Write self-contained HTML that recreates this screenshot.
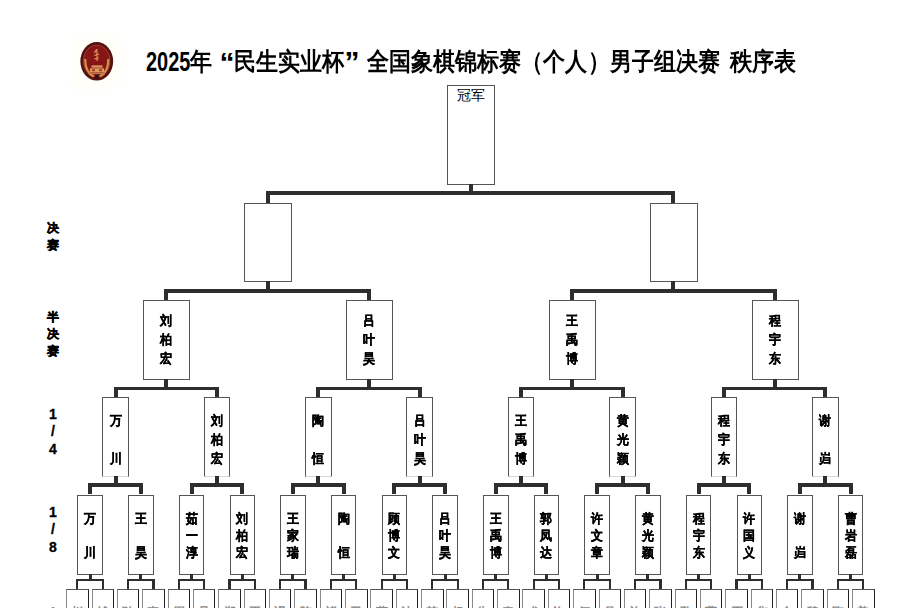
<!DOCTYPE html>
<html><head><meta charset="utf-8">
<style>
html,body{margin:0;padding:0;}
body{width:922px;height:608px;overflow:hidden;background:#fff;position:relative;font-family:"Liberation Sans",sans-serif;}
.r{position:absolute;}
.bx{position:absolute;border:1px solid #555;background:#fff;}
.t{position:absolute;width:20px;text-align:center;font-weight:bold;line-height:1;color:#000;font-family:"Liberation Serif",serif;-webkit-text-stroke:0.35px #000;transform:scaleX(0.92);}
.champ{position:absolute;width:28px;font-size:14px;line-height:1;color:#000;font-family:"Liberation Serif",serif;}
.lb{position:absolute;width:20px;text-align:center;font-size:12px;font-weight:bold;line-height:1;color:#000;-webkit-text-stroke:0.5px #000;}
.tc{position:absolute;top:49px;width:30px;text-align:center;font-size:25px;font-weight:bold;line-height:1;color:#000;transform:scaleX(0.88);}
.qt{position:absolute;top:48px;font-size:30px;font-weight:bold;line-height:1;color:#000;}
.dg{position:absolute;left:140px;top:48.5px;font-size:27px;font-weight:bold;line-height:1;color:#000;transform-origin:0 0;transform:translateX(6px) scaleX(0.74);}
.ld{position:absolute;width:20px;text-align:center;font-size:14px;font-weight:bold;line-height:1;color:#000;-webkit-text-stroke:0.3px #000;}
.t5{position:absolute;width:12px;text-align:center;font-size:12px;line-height:1;color:#888;font-weight:bold;}
.title{position:absolute;left:145px;top:46px;font-size:22px;font-weight:bold;line-height:1.2;color:#000;white-space:nowrap;letter-spacing:0;}
</style></head><body>
<div style="position:absolute;left:72px;top:34px;width:50px;height:56px;background:#fffef8;border-radius:10px;filter:blur(4px)"></div>
<svg width="45" height="48" viewBox="0 0 45 48" style="position:absolute;left:75px;top:38px;filter:blur(0.45px)">
<ellipse cx="21.75" cy="23.3" rx="16.4" ry="19.3" fill="#541210"/>
<ellipse cx="21.75" cy="23" rx="13.6" ry="16.3" fill="#a84436"/>
<ellipse cx="21.75" cy="22.6" rx="12.6" ry="15.2" fill="#861515"/>
<path d="M10.2 21 Q10.2 34 18.5 38.5" stroke="#d09048" stroke-width="2.2" fill="none"/>
<path d="M33.3 21 Q33.3 34 25 38.5" stroke="#d09048" stroke-width="2.2" fill="none"/>
<path d="M21.5 11.5 L19.3 14.8 M21.8 11 L22.2 23 M19.2 17.5 L24.2 16 M19.5 20.8 L23.8 19.8" stroke="#e0905a" stroke-width="1.25" fill="none"/>
<rect x="16.5" y="27.3" width="11" height="2.4" fill="#d8905a"/>
<rect x="15" y="30.3" width="14" height="3.8" fill="#dc9a5c"/>
<rect x="17" y="31.2" width="3" height="2" fill="#a83a2c"/>
<rect x="24" y="31.2" width="3" height="2" fill="#a83a2c"/>
<rect x="13.5" y="34.3" width="16.5" height="2" fill="#c27548"/>
<rect x="20" y="36.5" width="3.8" height="4" fill="#3a0f16"/>
</svg>
<div class="tc" style="left:185.75px">年</div><div class="qt" style="left:219.5px">“</div><div class="tc" style="left:229.95px">民</div><div class="tc" style="left:252.05px">生</div><div class="tc" style="left:274.15px">实</div><div class="tc" style="left:296.25px">业</div><div class="tc" style="left:318.35px">杯</div><div class="qt" style="left:344.5px;top:46.5px">”</div><div class="tc" style="left:362.55px">全</div><div class="tc" style="left:384.65px">国</div><div class="tc" style="left:406.75px">象</div><div class="tc" style="left:428.85px">棋</div><div class="tc" style="left:450.95px">锦</div><div class="tc" style="left:473.05px">标</div><div class="tc" style="left:495.15px">赛</div><div class="tc" style="left:517.25px">（</div><div class="tc" style="left:539.35px">个</div><div class="tc" style="left:561.45px">人</div><div class="tc" style="left:583.55px">）</div><div class="tc" style="left:605.65px">男</div><div class="tc" style="left:627.75px">子</div><div class="tc" style="left:649.85px">组</div><div class="tc" style="left:671.95px">决</div><div class="tc" style="left:694.05px">赛</div><div class="tc" style="left:726.00px">秩</div><div class="tc" style="left:748.00px">序</div><div class="tc" style="left:770.00px">表</div><div class="dg">2025</div>
<div class="bx" style="left:446.70px;top:85.00px;width:46.00px;height:97.50px;"></div><div class="champ" style="left:457.20px;top:89px;">冠军</div><div class="bx" style="left:244.20px;top:202.50px;width:46.00px;height:77.00px;"></div><div class="bx" style="left:650.20px;top:202.50px;width:46.00px;height:77.00px;"></div><div class="bx" style="left:143.15px;top:299.50px;width:44.50px;height:78.00px;"></div><div class="t" style="left:156.40px;top:314.00px;font-size:13px">刘</div><div class="t" style="left:156.40px;top:333.00px;font-size:13px">柏</div><div class="t" style="left:156.40px;top:352.00px;font-size:13px">宏</div><div class="bx" style="left:346.15px;top:299.50px;width:44.50px;height:78.00px;"></div><div class="t" style="left:359.40px;top:314.00px;font-size:13px">吕</div><div class="t" style="left:359.40px;top:333.00px;font-size:13px">叶</div><div class="t" style="left:359.40px;top:352.00px;font-size:13px">昊</div><div class="bx" style="left:549.15px;top:299.50px;width:44.50px;height:78.00px;"></div><div class="t" style="left:562.40px;top:314.00px;font-size:13px">王</div><div class="t" style="left:562.40px;top:333.00px;font-size:13px">禹</div><div class="t" style="left:562.40px;top:352.00px;font-size:13px">博</div><div class="bx" style="left:752.15px;top:299.50px;width:44.50px;height:78.00px;"></div><div class="t" style="left:765.40px;top:314.00px;font-size:13px">程</div><div class="t" style="left:765.40px;top:333.00px;font-size:13px">宇</div><div class="t" style="left:765.40px;top:352.00px;font-size:13px">东</div><div class="bx" style="left:102.25px;top:397.00px;width:24.50px;height:78.00px;border-bottom-color:#d8d8d8;"></div><div class="t" style="left:105.50px;top:413.50px;font-size:13px">万</div><div class="t" style="left:105.50px;top:451.50px;font-size:13px">川</div><div class="bx" style="left:203.65px;top:397.00px;width:24.50px;height:78.00px;border-bottom-color:#d8d8d8;"></div><div class="t" style="left:206.90px;top:413.50px;font-size:13px">刘</div><div class="t" style="left:206.90px;top:432.50px;font-size:13px">柏</div><div class="t" style="left:206.90px;top:451.50px;font-size:13px">宏</div><div class="bx" style="left:305.05px;top:397.00px;width:24.50px;height:78.00px;border-bottom-color:#d8d8d8;"></div><div class="t" style="left:308.30px;top:413.50px;font-size:13px">陶</div><div class="t" style="left:308.30px;top:451.50px;font-size:13px">恒</div><div class="bx" style="left:406.45px;top:397.00px;width:24.50px;height:78.00px;border-bottom-color:#d8d8d8;"></div><div class="t" style="left:409.70px;top:413.50px;font-size:13px">吕</div><div class="t" style="left:409.70px;top:432.50px;font-size:13px">叶</div><div class="t" style="left:409.70px;top:451.50px;font-size:13px">昊</div><div class="bx" style="left:507.85px;top:397.00px;width:24.50px;height:78.00px;border-bottom-color:#d8d8d8;"></div><div class="t" style="left:511.10px;top:413.50px;font-size:13px">王</div><div class="t" style="left:511.10px;top:432.50px;font-size:13px">禹</div><div class="t" style="left:511.10px;top:451.50px;font-size:13px">博</div><div class="bx" style="left:609.25px;top:397.00px;width:24.50px;height:78.00px;border-bottom-color:#d8d8d8;"></div><div class="t" style="left:612.50px;top:413.50px;font-size:13px">黄</div><div class="t" style="left:612.50px;top:432.50px;font-size:13px">光</div><div class="t" style="left:612.50px;top:451.50px;font-size:13px">颖</div><div class="bx" style="left:710.65px;top:397.00px;width:24.50px;height:78.00px;border-bottom-color:#d8d8d8;"></div><div class="t" style="left:713.90px;top:413.50px;font-size:13px">程</div><div class="t" style="left:713.90px;top:432.50px;font-size:13px">宇</div><div class="t" style="left:713.90px;top:451.50px;font-size:13px">东</div><div class="bx" style="left:812.05px;top:397.00px;width:24.50px;height:78.00px;border-bottom-color:#d8d8d8;"></div><div class="t" style="left:815.30px;top:413.50px;font-size:13px">谢</div><div class="t" style="left:815.30px;top:451.50px;font-size:13px">岿</div><div class="bx" style="left:77.40px;top:494.50px;width:23.50px;height:78.00px;"></div><div class="t" style="left:80.15px;top:511.50px;font-size:13px">万</div><div class="t" style="left:80.15px;top:546.10px;font-size:13px">川</div><div class="bx" style="left:128.10px;top:494.50px;width:23.50px;height:78.00px;"></div><div class="t" style="left:130.85px;top:511.50px;font-size:13px">王</div><div class="t" style="left:130.85px;top:546.10px;font-size:13px">昊</div><div class="bx" style="left:178.80px;top:494.50px;width:23.50px;height:78.00px;"></div><div class="t" style="left:181.55px;top:511.50px;font-size:13px">茹</div><div class="t" style="left:181.55px;top:528.80px;font-size:13px">一</div><div class="t" style="left:181.55px;top:546.10px;font-size:13px">淳</div><div class="bx" style="left:229.50px;top:494.50px;width:23.50px;height:78.00px;"></div><div class="t" style="left:232.25px;top:511.50px;font-size:13px">刘</div><div class="t" style="left:232.25px;top:528.80px;font-size:13px">柏</div><div class="t" style="left:232.25px;top:546.10px;font-size:13px">宏</div><div class="bx" style="left:280.20px;top:494.50px;width:23.50px;height:78.00px;"></div><div class="t" style="left:282.95px;top:511.50px;font-size:13px">王</div><div class="t" style="left:282.95px;top:528.80px;font-size:13px">家</div><div class="t" style="left:282.95px;top:546.10px;font-size:13px">瑞</div><div class="bx" style="left:330.90px;top:494.50px;width:23.50px;height:78.00px;"></div><div class="t" style="left:333.65px;top:511.50px;font-size:13px">陶</div><div class="t" style="left:333.65px;top:546.10px;font-size:13px">恒</div><div class="bx" style="left:381.60px;top:494.50px;width:23.50px;height:78.00px;"></div><div class="t" style="left:384.35px;top:511.50px;font-size:13px">顾</div><div class="t" style="left:384.35px;top:528.80px;font-size:13px">博</div><div class="t" style="left:384.35px;top:546.10px;font-size:13px">文</div><div class="bx" style="left:432.30px;top:494.50px;width:23.50px;height:78.00px;"></div><div class="t" style="left:435.05px;top:511.50px;font-size:13px">吕</div><div class="t" style="left:435.05px;top:528.80px;font-size:13px">叶</div><div class="t" style="left:435.05px;top:546.10px;font-size:13px">昊</div><div class="bx" style="left:483.00px;top:494.50px;width:23.50px;height:78.00px;"></div><div class="t" style="left:485.75px;top:511.50px;font-size:13px">王</div><div class="t" style="left:485.75px;top:528.80px;font-size:13px">禹</div><div class="t" style="left:485.75px;top:546.10px;font-size:13px">博</div><div class="bx" style="left:533.70px;top:494.50px;width:23.50px;height:78.00px;"></div><div class="t" style="left:536.45px;top:511.50px;font-size:13px">郭</div><div class="t" style="left:536.45px;top:528.80px;font-size:13px">凤</div><div class="t" style="left:536.45px;top:546.10px;font-size:13px">达</div><div class="bx" style="left:584.40px;top:494.50px;width:23.50px;height:78.00px;"></div><div class="t" style="left:587.15px;top:511.50px;font-size:13px">许</div><div class="t" style="left:587.15px;top:528.80px;font-size:13px">文</div><div class="t" style="left:587.15px;top:546.10px;font-size:13px">章</div><div class="bx" style="left:635.10px;top:494.50px;width:23.50px;height:78.00px;"></div><div class="t" style="left:637.85px;top:511.50px;font-size:13px">黄</div><div class="t" style="left:637.85px;top:528.80px;font-size:13px">光</div><div class="t" style="left:637.85px;top:546.10px;font-size:13px">颖</div><div class="bx" style="left:685.80px;top:494.50px;width:23.50px;height:78.00px;"></div><div class="t" style="left:688.55px;top:511.50px;font-size:13px">程</div><div class="t" style="left:688.55px;top:528.80px;font-size:13px">宇</div><div class="t" style="left:688.55px;top:546.10px;font-size:13px">东</div><div class="bx" style="left:736.50px;top:494.50px;width:23.50px;height:78.00px;"></div><div class="t" style="left:739.25px;top:511.50px;font-size:13px">许</div><div class="t" style="left:739.25px;top:528.80px;font-size:13px">国</div><div class="t" style="left:739.25px;top:546.10px;font-size:13px">义</div><div class="bx" style="left:787.20px;top:494.50px;width:23.50px;height:78.00px;"></div><div class="t" style="left:789.95px;top:511.50px;font-size:13px">谢</div><div class="t" style="left:789.95px;top:546.10px;font-size:13px">岿</div><div class="bx" style="left:837.90px;top:494.50px;width:23.50px;height:78.00px;"></div><div class="t" style="left:840.65px;top:511.50px;font-size:13px">曹</div><div class="t" style="left:840.65px;top:528.80px;font-size:13px">岩</div><div class="t" style="left:840.65px;top:546.10px;font-size:13px">磊</div><div class="bx" style="left:66.15px;top:589.00px;width:20.50px;height:38.00px;border-left-color:#8a8a8a;border-right-color:#222;"></div><div class="bx" style="left:91.50px;top:589.00px;width:20.50px;height:38.00px;border-left-color:#8a8a8a;border-right-color:#222;"></div><div class="bx" style="left:116.85px;top:589.00px;width:20.50px;height:38.00px;border-left-color:#8a8a8a;border-right-color:#222;"></div><div class="bx" style="left:142.20px;top:589.00px;width:20.50px;height:38.00px;border-left-color:#8a8a8a;border-right-color:#222;"></div><div class="bx" style="left:167.55px;top:589.00px;width:20.50px;height:38.00px;border-left-color:#8a8a8a;border-right-color:#222;"></div><div class="bx" style="left:192.90px;top:589.00px;width:20.50px;height:38.00px;border-left-color:#8a8a8a;border-right-color:#222;"></div><div class="bx" style="left:218.25px;top:589.00px;width:20.50px;height:38.00px;border-left-color:#8a8a8a;border-right-color:#222;"></div><div class="bx" style="left:243.60px;top:589.00px;width:20.50px;height:38.00px;border-left-color:#8a8a8a;border-right-color:#222;"></div><div class="bx" style="left:268.95px;top:589.00px;width:20.50px;height:38.00px;border-left-color:#8a8a8a;border-right-color:#222;"></div><div class="bx" style="left:294.30px;top:589.00px;width:20.50px;height:38.00px;border-left-color:#8a8a8a;border-right-color:#222;"></div><div class="bx" style="left:319.65px;top:589.00px;width:20.50px;height:38.00px;border-left-color:#8a8a8a;border-right-color:#222;"></div><div class="bx" style="left:345.00px;top:589.00px;width:20.50px;height:38.00px;border-left-color:#8a8a8a;border-right-color:#222;"></div><div class="bx" style="left:370.35px;top:589.00px;width:20.50px;height:38.00px;border-left-color:#8a8a8a;border-right-color:#222;"></div><div class="bx" style="left:395.70px;top:589.00px;width:20.50px;height:38.00px;border-left-color:#8a8a8a;border-right-color:#222;"></div><div class="bx" style="left:421.05px;top:589.00px;width:20.50px;height:38.00px;border-left-color:#8a8a8a;border-right-color:#222;"></div><div class="bx" style="left:446.40px;top:589.00px;width:20.50px;height:38.00px;border-left-color:#8a8a8a;border-right-color:#222;"></div><div class="bx" style="left:471.75px;top:589.00px;width:20.50px;height:38.00px;border-left-color:#8a8a8a;border-right-color:#222;"></div><div class="bx" style="left:497.10px;top:589.00px;width:20.50px;height:38.00px;border-left-color:#8a8a8a;border-right-color:#222;"></div><div class="bx" style="left:522.45px;top:589.00px;width:20.50px;height:38.00px;border-left-color:#8a8a8a;border-right-color:#222;"></div><div class="bx" style="left:547.80px;top:589.00px;width:20.50px;height:38.00px;border-left-color:#8a8a8a;border-right-color:#222;"></div><div class="bx" style="left:573.15px;top:589.00px;width:20.50px;height:38.00px;border-left-color:#8a8a8a;border-right-color:#222;"></div><div class="bx" style="left:598.50px;top:589.00px;width:20.50px;height:38.00px;border-left-color:#8a8a8a;border-right-color:#222;"></div><div class="bx" style="left:623.85px;top:589.00px;width:20.50px;height:38.00px;border-left-color:#8a8a8a;border-right-color:#222;"></div><div class="bx" style="left:649.20px;top:589.00px;width:20.50px;height:38.00px;border-left-color:#8a8a8a;border-right-color:#222;"></div><div class="bx" style="left:674.55px;top:589.00px;width:20.50px;height:38.00px;border-left-color:#8a8a8a;border-right-color:#222;"></div><div class="bx" style="left:699.90px;top:589.00px;width:20.50px;height:38.00px;border-left-color:#8a8a8a;border-right-color:#222;"></div><div class="bx" style="left:725.25px;top:589.00px;width:20.50px;height:38.00px;border-left-color:#8a8a8a;border-right-color:#222;"></div><div class="bx" style="left:750.60px;top:589.00px;width:20.50px;height:38.00px;border-left-color:#8a8a8a;border-right-color:#222;"></div><div class="bx" style="left:775.95px;top:589.00px;width:20.50px;height:38.00px;border-left-color:#8a8a8a;border-right-color:#222;"></div><div class="bx" style="left:801.30px;top:589.00px;width:20.50px;height:38.00px;border-left-color:#8a8a8a;border-right-color:#222;"></div><div class="bx" style="left:826.65px;top:589.00px;width:20.50px;height:38.00px;border-left-color:#8a8a8a;border-right-color:#222;"></div><div class="bx" style="left:852.00px;top:589.00px;width:20.50px;height:38.00px;border-left-color:#8a8a8a;border-right-color:#222;"></div><div class="t5" style="left:71.40px;top:606px">赵</div><div class="t5" style="left:96.75px;top:606px">钱</div><div class="t5" style="left:122.10px;top:606px">孙</div><div class="t5" style="left:147.45px;top:606px">李</div><div class="t5" style="left:172.80px;top:606px">周</div><div class="t5" style="left:198.15px;top:606px">吴</div><div class="t5" style="left:223.50px;top:606px">郑</div><div class="t5" style="left:248.85px;top:606px">王</div><div class="t5" style="left:274.20px;top:606px">冯</div><div class="t5" style="left:299.55px;top:606px">陈</div><div class="t5" style="left:324.90px;top:606px">褚</div><div class="t5" style="left:350.25px;top:606px">卫</div><div class="t5" style="left:375.60px;top:606px">蒋</div><div class="t5" style="left:400.95px;top:606px">沈</div><div class="t5" style="left:426.30px;top:606px">韩</div><div class="t5" style="left:451.65px;top:606px">杨</div><div class="t5" style="left:477.00px;top:606px">朱</div><div class="t5" style="left:502.35px;top:606px">秦</div><div class="t5" style="left:527.70px;top:606px">尤</div><div class="t5" style="left:553.05px;top:606px">许</div><div class="t5" style="left:578.40px;top:606px">何</div><div class="t5" style="left:603.75px;top:606px">吕</div><div class="t5" style="left:629.10px;top:606px">施</div><div class="t5" style="left:654.45px;top:606px">张</div><div class="t5" style="left:679.80px;top:606px">孔</div><div class="t5" style="left:705.15px;top:606px">曹</div><div class="t5" style="left:730.50px;top:606px">严</div><div class="t5" style="left:755.85px;top:606px">华</div><div class="t5" style="left:781.20px;top:606px">金</div><div class="t5" style="left:806.55px;top:606px">魏</div><div class="t5" style="left:831.90px;top:606px">陶</div><div class="t5" style="left:857.25px;top:606px">姜</div><div class="t5" style="left:47px;top:605.5px">1</div><div class="r" style="left:468.70px;top:183.50px;width:4.00px;height:8.00px;background:#2e2e2e;"></div><div class="r" style="left:266.10px;top:191.00px;width:409.00px;height:3.50px;background:#2e2e2e;"></div><div class="r" style="left:266.10px;top:191.00px;width:4.00px;height:11.50px;background:#2e2e2e;"></div><div class="r" style="left:671.10px;top:191.00px;width:4.00px;height:11.50px;background:#2e2e2e;"></div><div class="r" style="left:266.10px;top:280.50px;width:4.00px;height:9.00px;background:#2e2e2e;"></div><div class="r" style="left:164.40px;top:289.00px;width:207.00px;height:3.50px;background:#2e2e2e;"></div><div class="r" style="left:164.40px;top:289.00px;width:4.00px;height:10.50px;background:#2e2e2e;"></div><div class="r" style="left:367.40px;top:289.00px;width:4.00px;height:10.50px;background:#2e2e2e;"></div><div class="r" style="left:671.10px;top:280.50px;width:4.00px;height:9.00px;background:#2e2e2e;"></div><div class="r" style="left:570.40px;top:289.00px;width:207.00px;height:3.50px;background:#2e2e2e;"></div><div class="r" style="left:570.40px;top:289.00px;width:4.00px;height:10.50px;background:#2e2e2e;"></div><div class="r" style="left:773.40px;top:289.00px;width:4.00px;height:10.50px;background:#2e2e2e;"></div><div class="r" style="left:164.40px;top:378.80px;width:4.00px;height:8.70px;background:#2e2e2e;"></div><div class="r" style="left:113.50px;top:387.00px;width:105.40px;height:3.20px;background:#2e2e2e;"></div><div class="r" style="left:113.50px;top:387.00px;width:4.00px;height:10.00px;background:#2e2e2e;"></div><div class="r" style="left:214.90px;top:387.00px;width:4.00px;height:10.00px;background:#2e2e2e;"></div><div class="r" style="left:367.40px;top:378.80px;width:4.00px;height:8.70px;background:#2e2e2e;"></div><div class="r" style="left:316.30px;top:387.00px;width:105.40px;height:3.20px;background:#2e2e2e;"></div><div class="r" style="left:316.30px;top:387.00px;width:4.00px;height:10.00px;background:#2e2e2e;"></div><div class="r" style="left:417.70px;top:387.00px;width:4.00px;height:10.00px;background:#2e2e2e;"></div><div class="r" style="left:570.40px;top:378.80px;width:4.00px;height:8.70px;background:#2e2e2e;"></div><div class="r" style="left:519.10px;top:387.00px;width:105.40px;height:3.20px;background:#2e2e2e;"></div><div class="r" style="left:519.10px;top:387.00px;width:4.00px;height:10.00px;background:#2e2e2e;"></div><div class="r" style="left:620.50px;top:387.00px;width:4.00px;height:10.00px;background:#2e2e2e;"></div><div class="r" style="left:773.40px;top:378.80px;width:4.00px;height:8.70px;background:#2e2e2e;"></div><div class="r" style="left:721.90px;top:387.00px;width:105.40px;height:3.20px;background:#2e2e2e;"></div><div class="r" style="left:721.90px;top:387.00px;width:4.00px;height:10.00px;background:#2e2e2e;"></div><div class="r" style="left:823.30px;top:387.00px;width:4.00px;height:10.00px;background:#2e2e2e;"></div><div class="r" style="left:113.50px;top:476.00px;width:4.00px;height:7.70px;background:#2e2e2e;"></div><div class="r" style="left:88.15px;top:483.20px;width:54.70px;height:3.40px;background:#2e2e2e;"></div><div class="r" style="left:88.15px;top:483.20px;width:4.00px;height:11.30px;background:#2e2e2e;"></div><div class="r" style="left:138.85px;top:483.20px;width:4.00px;height:11.30px;background:#2e2e2e;"></div><div class="r" style="left:214.90px;top:476.00px;width:4.00px;height:7.70px;background:#2e2e2e;"></div><div class="r" style="left:189.55px;top:483.20px;width:54.70px;height:3.40px;background:#2e2e2e;"></div><div class="r" style="left:189.55px;top:483.20px;width:4.00px;height:11.30px;background:#2e2e2e;"></div><div class="r" style="left:240.25px;top:483.20px;width:4.00px;height:11.30px;background:#2e2e2e;"></div><div class="r" style="left:316.30px;top:476.00px;width:4.00px;height:7.70px;background:#2e2e2e;"></div><div class="r" style="left:290.95px;top:483.20px;width:54.70px;height:3.40px;background:#2e2e2e;"></div><div class="r" style="left:290.95px;top:483.20px;width:4.00px;height:11.30px;background:#2e2e2e;"></div><div class="r" style="left:341.65px;top:483.20px;width:4.00px;height:11.30px;background:#2e2e2e;"></div><div class="r" style="left:417.70px;top:476.00px;width:4.00px;height:7.70px;background:#2e2e2e;"></div><div class="r" style="left:392.35px;top:483.20px;width:54.70px;height:3.40px;background:#2e2e2e;"></div><div class="r" style="left:392.35px;top:483.20px;width:4.00px;height:11.30px;background:#2e2e2e;"></div><div class="r" style="left:443.05px;top:483.20px;width:4.00px;height:11.30px;background:#2e2e2e;"></div><div class="r" style="left:519.10px;top:476.00px;width:4.00px;height:7.70px;background:#2e2e2e;"></div><div class="r" style="left:493.75px;top:483.20px;width:54.70px;height:3.40px;background:#2e2e2e;"></div><div class="r" style="left:493.75px;top:483.20px;width:4.00px;height:11.30px;background:#2e2e2e;"></div><div class="r" style="left:544.45px;top:483.20px;width:4.00px;height:11.30px;background:#2e2e2e;"></div><div class="r" style="left:620.50px;top:476.00px;width:4.00px;height:7.70px;background:#2e2e2e;"></div><div class="r" style="left:595.15px;top:483.20px;width:54.70px;height:3.40px;background:#2e2e2e;"></div><div class="r" style="left:595.15px;top:483.20px;width:4.00px;height:11.30px;background:#2e2e2e;"></div><div class="r" style="left:645.85px;top:483.20px;width:4.00px;height:11.30px;background:#2e2e2e;"></div><div class="r" style="left:721.90px;top:476.00px;width:4.00px;height:7.70px;background:#2e2e2e;"></div><div class="r" style="left:696.55px;top:483.20px;width:54.70px;height:3.40px;background:#2e2e2e;"></div><div class="r" style="left:696.55px;top:483.20px;width:4.00px;height:11.30px;background:#2e2e2e;"></div><div class="r" style="left:747.25px;top:483.20px;width:4.00px;height:11.30px;background:#2e2e2e;"></div><div class="r" style="left:823.30px;top:476.00px;width:4.00px;height:7.70px;background:#2e2e2e;"></div><div class="r" style="left:797.95px;top:483.20px;width:54.70px;height:3.40px;background:#2e2e2e;"></div><div class="r" style="left:797.95px;top:483.20px;width:4.00px;height:11.30px;background:#2e2e2e;"></div><div class="r" style="left:848.65px;top:483.20px;width:4.00px;height:11.30px;background:#2e2e2e;"></div><div class="r" style="left:88.65px;top:573.70px;width:3.00px;height:5.80px;background:#2e2e2e;"></div><div class="r" style="left:76.30px;top:579.00px;width:27.55px;height:2.20px;background:#2e2e2e;"></div><div class="r" style="left:76.30px;top:579.00px;width:2.20px;height:10.00px;background:#2e2e2e;"></div><div class="r" style="left:101.65px;top:579.00px;width:2.20px;height:10.00px;background:#2e2e2e;"></div><div class="r" style="left:139.35px;top:573.70px;width:3.00px;height:5.80px;background:#2e2e2e;"></div><div class="r" style="left:127.00px;top:579.00px;width:27.55px;height:2.20px;background:#2e2e2e;"></div><div class="r" style="left:127.00px;top:579.00px;width:2.20px;height:10.00px;background:#2e2e2e;"></div><div class="r" style="left:152.35px;top:579.00px;width:2.20px;height:10.00px;background:#2e2e2e;"></div><div class="r" style="left:190.05px;top:573.70px;width:3.00px;height:5.80px;background:#2e2e2e;"></div><div class="r" style="left:177.70px;top:579.00px;width:27.55px;height:2.20px;background:#2e2e2e;"></div><div class="r" style="left:177.70px;top:579.00px;width:2.20px;height:10.00px;background:#2e2e2e;"></div><div class="r" style="left:203.05px;top:579.00px;width:2.20px;height:10.00px;background:#2e2e2e;"></div><div class="r" style="left:240.75px;top:573.70px;width:3.00px;height:5.80px;background:#2e2e2e;"></div><div class="r" style="left:228.40px;top:579.00px;width:27.55px;height:2.20px;background:#2e2e2e;"></div><div class="r" style="left:228.40px;top:579.00px;width:2.20px;height:10.00px;background:#2e2e2e;"></div><div class="r" style="left:253.75px;top:579.00px;width:2.20px;height:10.00px;background:#2e2e2e;"></div><div class="r" style="left:291.45px;top:573.70px;width:3.00px;height:5.80px;background:#2e2e2e;"></div><div class="r" style="left:279.10px;top:579.00px;width:27.55px;height:2.20px;background:#2e2e2e;"></div><div class="r" style="left:279.10px;top:579.00px;width:2.20px;height:10.00px;background:#2e2e2e;"></div><div class="r" style="left:304.45px;top:579.00px;width:2.20px;height:10.00px;background:#2e2e2e;"></div><div class="r" style="left:342.15px;top:573.70px;width:3.00px;height:5.80px;background:#2e2e2e;"></div><div class="r" style="left:329.80px;top:579.00px;width:27.55px;height:2.20px;background:#2e2e2e;"></div><div class="r" style="left:329.80px;top:579.00px;width:2.20px;height:10.00px;background:#2e2e2e;"></div><div class="r" style="left:355.15px;top:579.00px;width:2.20px;height:10.00px;background:#2e2e2e;"></div><div class="r" style="left:392.85px;top:573.70px;width:3.00px;height:5.80px;background:#2e2e2e;"></div><div class="r" style="left:380.50px;top:579.00px;width:27.55px;height:2.20px;background:#2e2e2e;"></div><div class="r" style="left:380.50px;top:579.00px;width:2.20px;height:10.00px;background:#2e2e2e;"></div><div class="r" style="left:405.85px;top:579.00px;width:2.20px;height:10.00px;background:#2e2e2e;"></div><div class="r" style="left:443.55px;top:573.70px;width:3.00px;height:5.80px;background:#2e2e2e;"></div><div class="r" style="left:431.20px;top:579.00px;width:27.55px;height:2.20px;background:#2e2e2e;"></div><div class="r" style="left:431.20px;top:579.00px;width:2.20px;height:10.00px;background:#2e2e2e;"></div><div class="r" style="left:456.55px;top:579.00px;width:2.20px;height:10.00px;background:#2e2e2e;"></div><div class="r" style="left:494.25px;top:573.70px;width:3.00px;height:5.80px;background:#2e2e2e;"></div><div class="r" style="left:481.90px;top:579.00px;width:27.55px;height:2.20px;background:#2e2e2e;"></div><div class="r" style="left:481.90px;top:579.00px;width:2.20px;height:10.00px;background:#2e2e2e;"></div><div class="r" style="left:507.25px;top:579.00px;width:2.20px;height:10.00px;background:#2e2e2e;"></div><div class="r" style="left:544.95px;top:573.70px;width:3.00px;height:5.80px;background:#2e2e2e;"></div><div class="r" style="left:532.60px;top:579.00px;width:27.55px;height:2.20px;background:#2e2e2e;"></div><div class="r" style="left:532.60px;top:579.00px;width:2.20px;height:10.00px;background:#2e2e2e;"></div><div class="r" style="left:557.95px;top:579.00px;width:2.20px;height:10.00px;background:#2e2e2e;"></div><div class="r" style="left:595.65px;top:573.70px;width:3.00px;height:5.80px;background:#2e2e2e;"></div><div class="r" style="left:583.30px;top:579.00px;width:27.55px;height:2.20px;background:#2e2e2e;"></div><div class="r" style="left:583.30px;top:579.00px;width:2.20px;height:10.00px;background:#2e2e2e;"></div><div class="r" style="left:608.65px;top:579.00px;width:2.20px;height:10.00px;background:#2e2e2e;"></div><div class="r" style="left:646.35px;top:573.70px;width:3.00px;height:5.80px;background:#2e2e2e;"></div><div class="r" style="left:634.00px;top:579.00px;width:27.55px;height:2.20px;background:#2e2e2e;"></div><div class="r" style="left:634.00px;top:579.00px;width:2.20px;height:10.00px;background:#2e2e2e;"></div><div class="r" style="left:659.35px;top:579.00px;width:2.20px;height:10.00px;background:#2e2e2e;"></div><div class="r" style="left:697.05px;top:573.70px;width:3.00px;height:5.80px;background:#2e2e2e;"></div><div class="r" style="left:684.70px;top:579.00px;width:27.55px;height:2.20px;background:#2e2e2e;"></div><div class="r" style="left:684.70px;top:579.00px;width:2.20px;height:10.00px;background:#2e2e2e;"></div><div class="r" style="left:710.05px;top:579.00px;width:2.20px;height:10.00px;background:#2e2e2e;"></div><div class="r" style="left:747.75px;top:573.70px;width:3.00px;height:5.80px;background:#2e2e2e;"></div><div class="r" style="left:735.40px;top:579.00px;width:27.55px;height:2.20px;background:#2e2e2e;"></div><div class="r" style="left:735.40px;top:579.00px;width:2.20px;height:10.00px;background:#2e2e2e;"></div><div class="r" style="left:760.75px;top:579.00px;width:2.20px;height:10.00px;background:#2e2e2e;"></div><div class="r" style="left:798.45px;top:573.70px;width:3.00px;height:5.80px;background:#2e2e2e;"></div><div class="r" style="left:786.10px;top:579.00px;width:27.55px;height:2.20px;background:#2e2e2e;"></div><div class="r" style="left:786.10px;top:579.00px;width:2.20px;height:10.00px;background:#2e2e2e;"></div><div class="r" style="left:811.45px;top:579.00px;width:2.20px;height:10.00px;background:#2e2e2e;"></div><div class="r" style="left:849.15px;top:573.70px;width:3.00px;height:5.80px;background:#2e2e2e;"></div><div class="r" style="left:836.80px;top:579.00px;width:27.55px;height:2.20px;background:#2e2e2e;"></div><div class="r" style="left:836.80px;top:579.00px;width:2.20px;height:10.00px;background:#2e2e2e;"></div><div class="r" style="left:862.15px;top:579.00px;width:2.20px;height:10.00px;background:#2e2e2e;"></div><div class="lb" style="left:43px;top:222.00px">决</div><div class="lb" style="left:43px;top:239.00px">赛</div><div class="lb" style="left:43px;top:311.00px">半</div><div class="lb" style="left:43px;top:328.00px">决</div><div class="lb" style="left:43px;top:345.00px">赛</div><div class="ld" style="left:43px;top:407.00px">1</div><div class="ld" style="left:43px;top:424.00px">/</div><div class="ld" style="left:43px;top:442.00px">4</div><div class="ld" style="left:43px;top:505.00px">1</div><div class="ld" style="left:43px;top:521.50px">/</div><div class="ld" style="left:43px;top:540.00px">8</div>
</body></html>
